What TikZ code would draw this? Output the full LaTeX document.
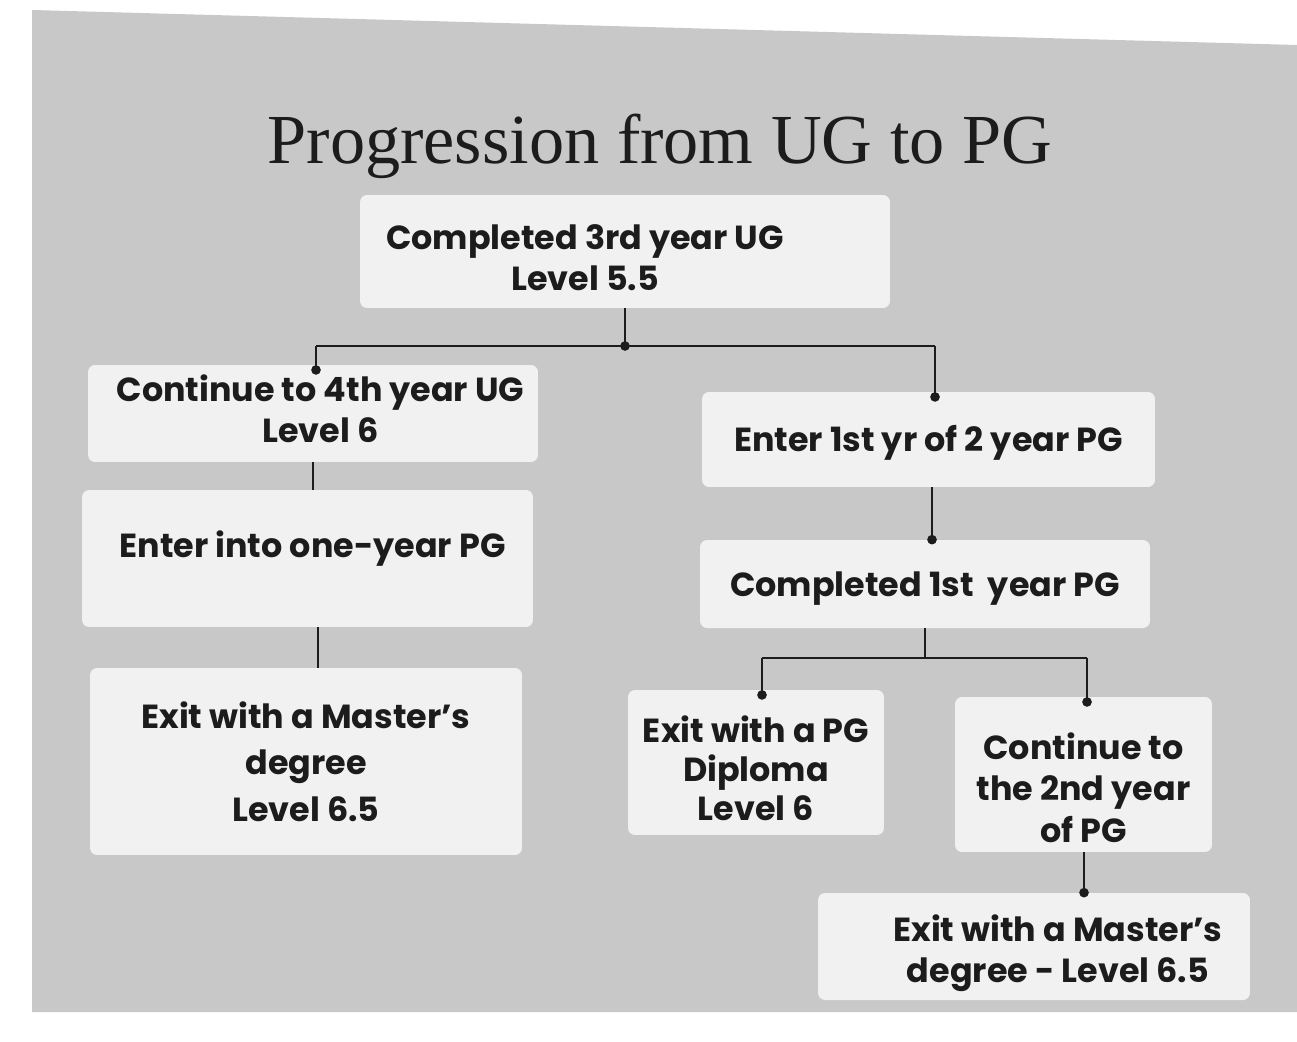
\documentclass[tikz,border=0pt]{standalone}
\usepackage{fontspec}
\setmainfont{Poppins}
\newfontfamily\titlefont{Liberation Serif}
\definecolor{bggray}{RGB}{200,200,200}
\definecolor{boxwhite}{RGB}{241,241,241}
\definecolor{inkc}{RGB}{28,28,28}
\newcommand\shiftdn[2]{\raisebox{-#1}[\height][\depth]{#2}}
\begin{document}
\begin{tikzpicture}[x=0.02cm,y=-0.02cm,
  box/.style={fill=boxwhite, rounded corners=4pt, inner sep=0pt, align=center,
    font=\fontsize{19}{23.5}\selectfont\bfseries, text=inkc},
  conn/.style={draw=inkc, line width=1.3pt},
  dotc/.style={circle, fill=inkc, inner sep=0pt, minimum size=5.5pt}]
\useasboundingbox (0,0) rectangle (1297,1041);
\fill[white] (0,0) rectangle (1297,1041);
\fill[bggray] (32,10) -- (1297,45) -- (1297,1012) -- (32,1012) -- cycle;

\node[font=\titlefont\fontsize{40}{44}\selectfont, text=inkc] (title) at (660,146) {Progression from UG to PG};

\node[box, minimum width=10.6cm, minimum height=2.26cm] (top) at (625,251.5) {\shiftdn{0.2cm}{\begin{tabular}{@{}c@{}}Completed 3rd year UG\\Level 5.5\end{tabular}}\hspace*{1.6cm}};
\node[box, minimum width=9cm, minimum height=1.94cm] (c4) at (313,413.5) {\hspace*{0.3cm}\begin{tabular}{@{}c@{}}Continue to 4th year UG\\Level 6\end{tabular}};
\node[box, minimum width=9.06cm, minimum height=1.9cm] (e1) at (928.5,439.5) {\shiftdn{0.06cm}{Enter 1st yr of 2 year PG}};
\node[box, minimum width=9.02cm, minimum height=2.74cm] (e1y) at (307.5,558.5) {\hspace*{0.2cm}\shiftdn{-0.2cm}{Enter into one-year PG}};
\node[box, minimum width=9cm, minimum height=1.76cm] (c1) at (925,584) {\shiftdn{0.1cm}{Completed 1st\ \ year PG}};
\node[box, minimum width=8.64cm, minimum height=3.74cm] (m1) at (306,761.5) {\shiftdn{0.1cm}{\begin{tabular}{@{}c@{}}Exit with a Master's\\[0.1cm]degree\\[0.1cm]Level 6.5\end{tabular}}};
\node[box, minimum width=5.12cm, minimum height=2.9cm] (dip) at (756,762.5) {\shiftdn{0.22cm}{\begin{tabular}{@{}c@{}}Exit with a PG\\[-0.05cm]Diploma\\[-0.05cm]Level 6\end{tabular}}};
\node[box, minimum width=5.14cm, minimum height=3.1cm] (c2) at (1083.5,774.5) {\shiftdn{0.36cm}{\begin{tabular}{@{}c@{}}Continue to\\the 2nd year\\of PG\end{tabular}}};
\node[box, minimum width=8.64cm, minimum height=2.14cm] (m2) at (1034,946.5) {\hspace*{0.96cm}\shiftdn{0.14cm}{\begin{tabular}{@{}c@{}}Exit with a Master's\\degree - Level 6.5\end{tabular}}};

% junctions
\coordinate (j1) at (top.south |- 0,346);
\coordinate (j1l) at (c4.north -| 316,0);
\coordinate (j1r) at (e1.north -| 935,0);
\coordinate (j2) at (c1.south |- 0,658);
\coordinate (j2l) at (dip.north -| 762,0);
\coordinate (j2r) at (c2.north -| 1087,0);

\draw[conn] (top.south) -- (j1);
\draw[conn] (j1l |- 0,346) -- (j1r |- 0,346);
\draw[conn] (j1l |- 0,346) -- ([yshift=-3pt]j1l);
\draw[conn] (j1r |- 0,346) -- ([yshift=-3pt]j1r);
\node[dotc] at (j1) {};
\node[dotc] at ([yshift=-3pt]j1l) {};
\node[dotc] at ([yshift=-3pt]j1r) {};

\draw[conn] (c4.south -| 313,0) -- (e1y.north -| 313,0);
\draw[conn] (e1y.south -| 318,0) -- (m1.north -| 318,0);

\draw[conn] (e1.south -| 932,0) -- (c1.north -| 932,0);
\node[dotc] at (c1.north -| 932,0) {};

\draw[conn] (c1.south) -- (j2);
\draw[conn] (j2l |- 0,658) -- (j2r |- 0,658);
\draw[conn] (j2l |- 0,658) -- ([yshift=-3pt]j2l);
\draw[conn] (j2r |- 0,658) -- ([yshift=-3pt]j2r);
\node[dotc] at ([yshift=-3pt]j2l) {};
\node[dotc] at ([yshift=-3pt]j2r) {};

\draw[conn] (c2.south -| 1084,0) -- (m2.north -| 1084,0);
\node[dotc] at (m2.north -| 1084,0) {};
\end{tikzpicture}
\end{document}
